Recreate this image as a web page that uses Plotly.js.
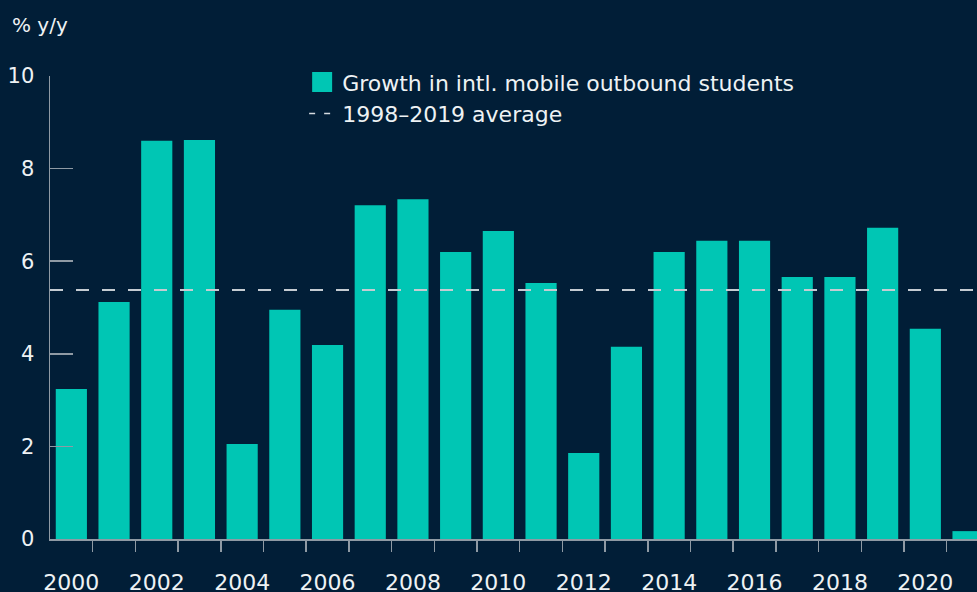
<!DOCTYPE html>
<html>
<head>
<meta charset="utf-8">
<script src="https://cdn.plot.ly/plotly-3.0.1.min.js"></script>
<style>
html,body{margin:0;padding:0;background:#011e37;}
#chart{width:977px;height:592px;}
</style>
</head>
<body>
<div id="chart"></div>
<script>
const years = [2000,2001,2002,2003,2004,2005,2006,2007,2008,2009,2010,2011,2012,2013,2014,2015,2016,2017,2018,2019,2020,2021];
const growth = [3.24,5.12,8.60,8.62,2.05,4.95,4.19,7.21,7.34,6.20,6.65,5.53,1.86,4.15,6.20,6.44,6.44,5.66,5.66,6.72,4.54,0.17];
const averageValue = 5.38;
const seriesName = "Growth in intl. mobile outbound students";
const avgName = "1998–2019 average";
const yTitle = "% y/y";
const xTickYears = years.filter(y => y % 2 === 0 && y <= 2020);

const BG = "#011e37";
const TEAL = "#00c6b4";
const TXT = "#eef2f4";
const AX = "#8f9aa4";
const FONT = "'DejaVu Sans', sans-serif";
const FS = 22;

const xMin = years[0] - 0.5;
const xMax = years[years.length-1] + 0.21;

const traces = [
  {
    type: "bar", x: years, y: growth, name: seriesName, showlegend: false,
    marker: {color: TEAL}, hoverinfo: "skip"
  },
  {
    type: "scatter", mode: "lines", name: avgName, showlegend: false,
    x: [xMin, xMax], y: [averageValue, averageValue],
    line: {color: "#c5ccd2", width: 2, dash: "13px,13px"},
    hoverinfo: "skip", cliponaxis: false
  },
  {
    type: "scatter", mode: "markers", name: seriesName, x: [null], y: [null],
    legendgroup: "a",
    marker: {symbol: "square", size: 16, color: TEAL, line: {color: TEAL, width: 4}},
    hoverinfo: "skip"
  },
  {
    type: "scatter", mode: "lines", name: avgName, x: [null], y: [null],
    legendgroup: "b",
    line: {color: "#d5dbe0", width: 1.5, dash: "0px,2px,6px,9px,6px,20px"},
    hoverinfo: "skip"
  }
];

const layout = {
  width: 977, height: 592,
  paper_bgcolor: BG, plot_bgcolor: BG,
  font: {family: FONT, color: TXT, size: FS},
  margin: {l: 50, r: 0, t: 76, b: 53},
  bargap: 0.27,
  showlegend: true,
  legend: {
    x: 0.272, y: 1.032, xanchor: "left", yanchor: "top",
    bgcolor: "rgba(0,0,0,0)", font: {size: FS, color: TXT},
    itemwidth: 30, traceorder: "grouped", tracegroupgap: 0
  },
  xaxis: {
    range: [xMin, xMax], type: "linear",
    tickvals: xTickYears, ticktext: xTickYears.map(String),
    ticks: "", showgrid: false, zeroline: false,
    showline: true, linecolor: AX, linewidth: 1.5,
    ticklabelstandoff: 23,
    tickfont: {size: FS, color: TXT},
    minor: {
      tickvals: years.slice(0, -1).map(y => y + 0.5),
      ticks: "outside", ticklen: 11, tickcolor: AX, tickwidth: 1.5, showgrid: false
    },
    fixedrange: true
  },
  yaxis: {
    range: [0, 10], tickvals: [0,2,4,6,8,10],
    ticks: "inside", ticklen: 23, tickcolor: AX, tickwidth: 1.5,
    showline: true, linecolor: AX, linewidth: 1.5,
    showgrid: false, zeroline: false,
    ticklabelstandoff: 10,
    tickfont: {size: 21, color: TXT},
    fixedrange: true
  },
  annotations: [
    {text: yTitle, xref: "paper", yref: "paper", x: -0.043, y: 1.110,
     xanchor: "left", yanchor: "middle", showarrow: false,
     font: {size: 20, color: TXT}}
  ]
};

Plotly.newPlot("chart", traces, layout, {displayModeBar: false, staticPlot: true});
</script>
</body>
</html>
